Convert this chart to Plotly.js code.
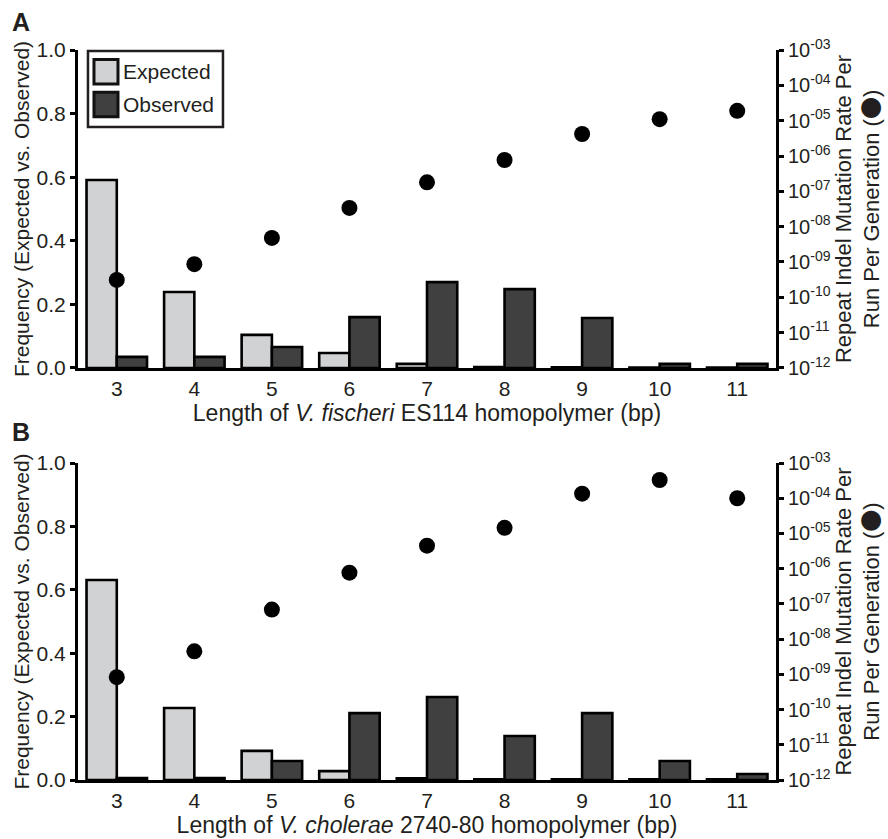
<!DOCTYPE html>
<html>
<head>
<meta charset="utf-8">
<script src="https://cdn.plot.ly/plotly-3.0.1.min.js"></script>
<style>html,body{margin:0;padding:0;background:#fff;}#chart{width:888px;height:839px;}</style>
</head>
<body>
<div id="chart"></div>
<script>
// ---- data ----
const lengths = [3, 4, 5, 6, 7, 8, 9, 10, 11];
const expectedA = [0.591, 0.239, 0.104, 0.047, 0.013, 0.003, 0.002, 0.001, 0.001];
const observedA = [0.035, 0.035, 0.066, 0.160, 0.270, 0.248, 0.157, 0.013, 0.013];
const rateA = [3.1e-10, 8.7e-10, 4.8e-9, 3.4e-8, 1.8e-7, 7.7e-7, 4.2e-6, 1.1e-5, 1.9e-5];
const expectedB = [0.631, 0.227, 0.092, 0.028, 0.005, 0.002, 0.002, 0.002, 0.002];
const observedB = [0.006, 0.006, 0.060, 0.211, 0.262, 0.139, 0.211, 0.060, 0.019];
const rateB = [8.3e-10, 4.5e-9, 6.9e-8, 7.7e-7, 4.5e-6, 1.45e-5, 1.35e-4, 3.3e-4, 1.0e-4];
const freqTicks = [0, 0.2, 0.4, 0.6, 0.8, 1.0];
const rateTickVals = [1e-12, 1e-11, 1e-10, 1e-9, 1e-8, 1e-7, 1e-6, 1e-5, 1e-4, 1e-3];
const rateTickText = ['10<sup>-12</sup>', '10<sup>-11</sup>', '10<sup>-10</sup>', '10<sup>-09</sup>', '10<sup>-08</sup>',
  '10<sup>-07</sup>', '10<sup>-06</sup>', '10<sup>-05</sup>', '10<sup>-04</sup>', '10<sup>-03</sup>'];
const seriesNames = ['Expected', 'Observed'];
const xTitleA = 'Length of <i>V. fischeri</i> ES114 homopolymer (bp)';
const xTitleB = 'Length of <i>V. cholerae</i> 2740-80 homopolymer (bp)';
const yTitleLeft = 'Frequency (Expected vs. Observed)';
const yTitleRight = 'Repeat Indel Mutation Rate Per<br>Run Per Generation (<span style="font-family:\'Noto Sans CJK JP\'">\u25CF</span>)';

// ---- styles ----
const FONT = 'Liberation Sans, Arial, Helvetica, sans-serif';
const INK = '#231f20';
const LIGHT = '#d1d2d4';
const DARK = '#404041';

function bar(x, y, name, color, xa, ya) {
  return {type: 'bar', x: x, y: y, name: name, xaxis: xa, yaxis: ya, showlegend: false,
    marker: {color: color, line: {color: '#000', width: 2.6}}, hoverinfo: 'x+y'};
}
function dots(x, y, xa, ya) {
  return {type: 'scatter', mode: 'markers', x: x, y: y, xaxis: xa, yaxis: ya, showlegend: false,
    name: 'Rate', marker: {color: '#000', size: 16}};
}

const data = [
  bar(lengths, expectedA, seriesNames[0], LIGHT, 'x', 'y'),
  bar(lengths, observedA, seriesNames[1], DARK, 'x', 'y'),
  dots(lengths, rateA, 'x', 'y2'),
  bar(lengths, expectedB, seriesNames[0], LIGHT, 'x2', 'y3'),
  bar(lengths, observedB, seriesNames[1], DARK, 'x2', 'y3'),
  dots(lengths, rateB, 'x2', 'y4')
];

const domA = [0.5644, 1];
const domB = [0, 0.4342];

function xAxis(anchor, title) {
  return {anchor: anchor, domain: [0, 1], range: [2.5, 11.5], tickvals: lengths, ticks: '',
    showline: true, linewidth: 3, linecolor: '#000', showgrid: false, zeroline: false,
    tickfont: {size: 21, color: INK}, ticklabelstandoff: 0,
    title: {text: title, font: {size: 23, color: INK}, standoff: 1}};
}
function yLeft(anchor, dom) {
  return {anchor: anchor, domain: dom, range: [0, 1], tickvals: freqTicks, tickformat: '.1f',
    ticks: 'outside', ticklen: 5, tickwidth: 3, tickcolor: '#000',
    showline: true, linewidth: 3, linecolor: '#000', showgrid: false, zeroline: false,
    tickfont: {size: 21, color: INK},
    title: {text: yTitleLeft, font: {size: 21, color: INK}, standoff: 2}};
}
function yRight(anchor, over) {
  return {anchor: anchor, overlaying: over, side: 'right', type: 'log', range: [-12, -3],
    tickvals: rateTickVals, ticktext: rateTickText,
    ticks: 'outside', ticklen: 5, tickwidth: 3, tickcolor: '#000',
    showline: true, linewidth: 3, linecolor: '#000', showgrid: false, zeroline: false,
    tickfont: {size: 20, color: INK},
    title: {text: yTitleRight, font: {size: 22, color: INK}, standoff: 6}};
}

// legend drawn inside panel A (domain-relative)
const shapes = [
  {type: 'rect', xref: 'x domain', yref: 'y domain', x0: 0.0143, x1: 0.2077, y0: 0.758, y1: 0.997,
    line: {color: INK, width: 2.5}, fillcolor: '#fff', layer: 'above'},
  {type: 'rect', xref: 'x domain', yref: 'y domain', x0: 0.0229, x1: 0.0573, y0: 0.893, y1: 0.970,
    line: {color: '#111', width: 3}, fillcolor: LIGHT, layer: 'above'},
  {type: 'rect', xref: 'x domain', yref: 'y domain', x0: 0.0229, x1: 0.0573, y0: 0.790, y1: 0.867,
    line: {color: '#111', width: 3}, fillcolor: DARK, layer: 'above'}
];

const annotations = [
  {xref: 'x domain', yref: 'y domain', x: 0.062, y: 0.9315, xanchor: 'left', yanchor: 'middle',
    text: seriesNames[0], showarrow: false, font: {size: 21, color: INK}},
  {xref: 'x domain', yref: 'y domain', x: 0.062, y: 0.8285, xanchor: 'left', yanchor: 'middle',
    text: seriesNames[1], showarrow: false, font: {size: 21, color: INK}},
  {xref: 'paper', yref: 'paper', x: -0.081, y: 1.0384, xanchor: 'center', yanchor: 'middle',
    text: '<b>A</b>', showarrow: false, font: {size: 25, color: INK}},
  {xref: 'paper', yref: 'paper', x: -0.081, y: 0.4767, xanchor: 'center', yanchor: 'middle',
    text: '<b>B</b>', showarrow: false, font: {size: 25, color: INK}}
];

const layout = {
  width: 888, height: 839,
  margin: {l: 78, r: 112, t: 50, b: 59},
  paper_bgcolor: '#fff', plot_bgcolor: 'rgba(0,0,0,0)',
  font: {family: FONT, color: INK},
  barmode: 'group', bargap: 0.22, bargroupgap: 0,
  showlegend: false,
  xaxis: xAxis('y', xTitleA),
  yaxis: yLeft('x', domA),
  yaxis2: Object.assign(yRight('x', 'y'), {domain: domA}),
  xaxis2: xAxis('y3', xTitleB),
  yaxis3: yLeft('x2', domB),
  yaxis4: Object.assign(yRight('x2', 'y3'), {domain: domB}),
  shapes: shapes,
  annotations: annotations
};

Plotly.newPlot('chart', data, layout, {staticPlot: true, displayModeBar: false});
</script>
</body>
</html>
